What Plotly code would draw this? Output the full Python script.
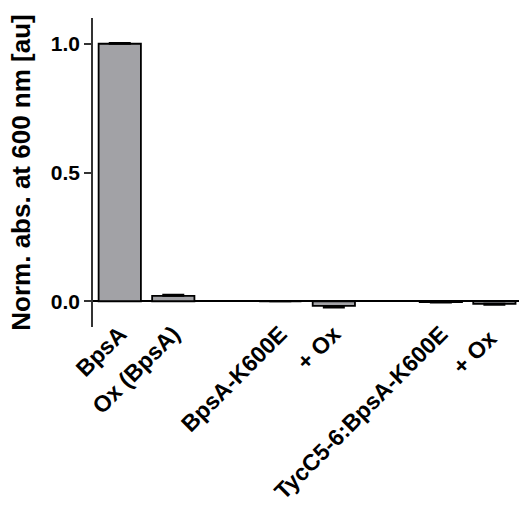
import plotly.graph_objects as go

categories = ["BpsA", "Ox (BpsA)", "BpsA-K600E", "+ Ox", "TycC5-6:BpsA-K600E", "+ Ox "]
positions = [0, 1, 3, 4, 6, 7]
values = [1.0, 0.021, 0.0, -0.018, -0.003, -0.010]
errors_up = [0.003, 0.004, 0.0, 0.0, 0.0, 0.0]
errors_down = [0.0, 0.0, 0.0, 0.006, 0.002, 0.004]
y_ticks = [0.0, 0.5, 1.0]
y_tick_labels = ["0.0", "0.5", "1.0"]

FONT = "Liberation Sans, Arial, sans-serif"

fig = go.Figure()
fig.add_trace(go.Bar(
    x=positions, y=values, width=0.79,
    marker=dict(color="#a2a2a6", line=dict(color="black", width=1.8)),
    error_y=dict(type="data", symmetric=False, array=errors_up, arrayminus=errors_down,
                 color="black", thickness=2, width=11),
))

fig.update_layout(
    width=521, height=506,
    margin=dict(l=93, r=2, t=18, b=179),
    paper_bgcolor="white", plot_bgcolor="white",
    showlegend=False,
    font=dict(family=FONT, color="black"),
    xaxis=dict(
        range=[-0.5, 7.46], tickmode="array", tickvals=positions, ticktext=categories,
        tickangle=-45, showgrid=False, showline=False, zeroline=False, ticks="",
        automargin=False, ticklabelstandoff=-12,
        tickfont=dict(size=23, family=FONT, weight="bold"),
    ),
    yaxis=dict(
        range=[-0.1, 1.1], tickmode="array", tickvals=y_ticks, ticktext=y_tick_labels,
        showgrid=False, showline=True, linecolor="#333", linewidth=1.5,
        ticks="outside", ticklen=7, tickwidth=1.5, tickcolor="#333",
        zeroline=True, zerolinecolor="black", zerolinewidth=2,
        automargin=False,
        tickfont=dict(size=21, family=FONT, weight="bold"),
        title=dict(text="Norm. abs. at 600 nm [au]", standoff=13,
                   font=dict(size=26, family=FONT, weight="bold")),
    ),
)

fig.write_html("out.html")
